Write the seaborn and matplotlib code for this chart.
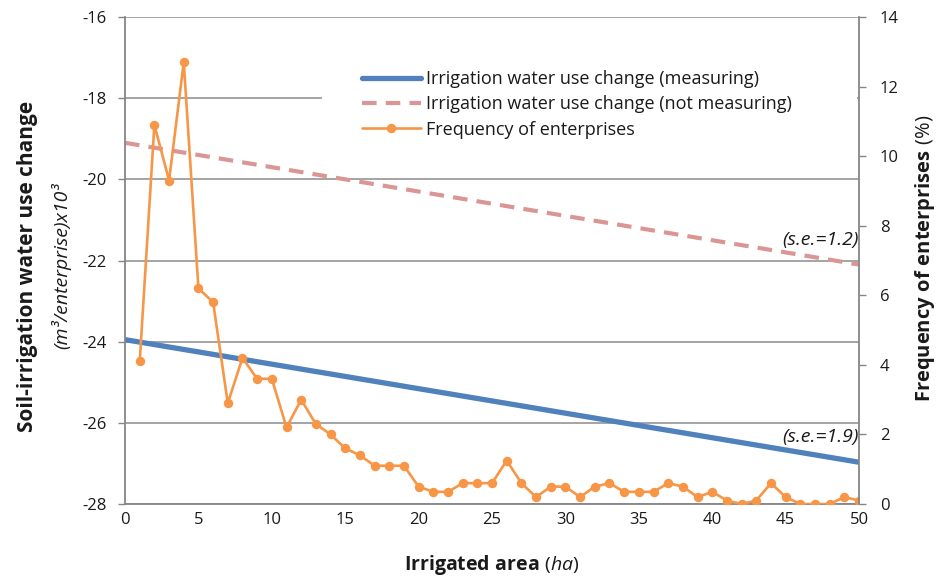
import matplotlib
matplotlib.use("Agg")
import matplotlib.pyplot as plt
import seaborn as sns
import pandas as pd
from matplotlib.patches import Rectangle

# ---- data ----
area = list(range(1, 51))
frequency = [4.1, 10.9, 9.3, 12.7, 6.2, 5.8, 2.9, 4.2, 3.6, 3.6,
             2.2, 3.0, 2.3, 2.0, 1.6, 1.4, 1.1, 1.1, 1.1, 0.5,
             0.35, 0.35, 0.6, 0.6, 0.6, 1.25, 0.6, 0.2, 0.5, 0.5,
             0.2, 0.5, 0.6, 0.35, 0.35, 0.35, 0.6, 0.5, 0.2, 0.35,
             0.1, 0.0, 0.1, 0.6, 0.2, 0.0, 0.0, 0.0, 0.2, 0.1]
trend_x = [0, 50]
measuring = [-23.95, -26.97]
not_measuring = [-19.1, -22.1]
left_ticks = [-28, -26, -24, -22, -20, -18, -16]
right_ticks = [0, 2, 4, 6, 8, 10, 12, 14]
x_ticks = [0, 5, 10, 15, 20, 25, 30, 35, 40, 45, 50]

sns.set_theme(style="white")
FONT = "Open Sans"
plt.rcParams["font.family"] = [FONT, "DejaVu Sans"]
plt.rcParams["mathtext.fontset"] = "custom"
plt.rcParams["mathtext.rm"] = FONT
plt.rcParams["mathtext.bf"] = FONT + ":bold"
plt.rcParams["mathtext.it"] = FONT + ":italic"

BLUE = "#4F81BD"
PINK = "#D99694"
ORANGE = "#F79646"
GRID = "#8C8C8C"
SPINE = "#868686"
TXT = "#1a1a1a"

fig = plt.figure(figsize=(9.38, 5.79), dpi=100)
ax = fig.add_axes([0.1333, 0.1295, 0.9158 - 0.1333, 0.9706 - 0.1295])
ax2 = ax.twinx()

df_m = pd.DataFrame({"x": trend_x, "y": measuring})
df_n = pd.DataFrame({"x": trend_x, "y": not_measuring})
df_f = pd.DataFrame({"x": area, "y": frequency})

sns.lineplot(data=df_m, x="x", y="y", ax=ax, color=BLUE, linewidth=3.8,
             label="Irrigation water use change (measuring)", legend=False)
sns.lineplot(data=df_n, x="x", y="y", ax=ax, color=PINK, linewidth=3.0,
             label="Irrigation water use change (not measuring)", legend=False)
ax.lines[1].set_dashes([3.5, 2.2])
sns.lineplot(data=df_f, x="x", y="y", ax=ax2, color=ORANGE, linewidth=1.9,
             marker="o", markersize=6.8, markeredgewidth=0,
             label="Frequency of enterprises", legend=False)

ax.set_xlim(0, 50)
ax.set_ylim(-28, -16)
ax2.set_ylim(0, 14)
ax.set_xticks(x_ticks)
ax.set_yticks(left_ticks)
ax2.set_yticks(right_ticks)
ax.set_xticklabels([str(v) for v in x_ticks])
ax.set_yticklabels([str(v) for v in left_ticks])
ax2.set_yticklabels([str(v) for v in right_ticks])

for a in (ax, ax2):
    a.set_xlabel("")
    a.set_ylabel("")
    for s in a.spines.values():
        s.set_color(SPINE)
        s.set_linewidth(1.3)
    a.spines["top"].set_visible(False)
ax.spines["right"].set_visible(False)
ax2.spines["left"].set_visible(False)
ax2.spines["bottom"].set_visible(False)
ax2.spines["right"].set_zorder(6)

ax.yaxis.grid(True, color=GRID, linewidth=1.1)
ax.xaxis.grid(False)
ax.set_axisbelow(True)

ax.tick_params(axis="y", left=True, length=5, width=1, color=SPINE,
               labelsize=12, labelcolor=TXT, pad=8)
ax.tick_params(axis="x", bottom=False, length=0, labelsize=12,
               labelcolor=TXT, pad=6)
ax2.tick_params(axis="y", right=True, length=5, width=1, color=SPINE,
                labelsize=12, labelcolor=TXT, pad=10)

# white backdrop behind legend (hides part of the gridline)
bg = Rectangle((0.268, 0.727), 0.729, 0.195, transform=ax2.transAxes,
               facecolor="white", edgecolor="none", zorder=4)
ax2.add_patch(bg)

h1, l1 = ax.get_legend_handles_labels()
h2, l2 = ax2.get_legend_handles_labels()
leg = ax2.legend(h1 + h2, l1 + l2, loc="upper left",
                 bbox_to_anchor=(0.305, 0.917), frameon=False,
                 fontsize=13, handlelength=3.3, handletextpad=0.25,
                 labelspacing=0.4, borderpad=0.2)
leg.set_zorder(5)
for t in leg.get_texts():
    t.set_color(TXT)

ax.text(50, -21.5, "(s.e.=1.2)", ha="right", va="center",
        fontsize=14, style="italic", color=TXT)
ax.text(50, -26.35, "(s.e.=1.9)", ha="right", va="center",
        fontsize=14, style="italic", color=TXT)

fig.text(492 / 938, 1 - 565 / 579, r"$\mathbf{Irrigated\ area}\ \mathit{(ha)}$",
         ha="center", va="center", fontsize=14, color=TXT)
fig.text(28 / 938, 1 - 266 / 579, "Soil-irrigation water use change",
         rotation=90, ha="center", va="center", fontsize=15, fontweight="bold",
         color=TXT)
fig.text(61 / 938, 1 - 266 / 579, "(m³/enterprise)x10³",
         rotation=90, ha="center", va="center", fontsize=14, style="italic",
         color=TXT)
fig.text(925 / 938, 1 - 258 / 579,
         r"$\mathbf{Frequency\ of\ enterprises}\ \mathit{(\%)}$",
         rotation=90, ha="center", va="center", fontsize=14.5, color=TXT)

fig.savefig("out.png", dpi=100, facecolor="white")
